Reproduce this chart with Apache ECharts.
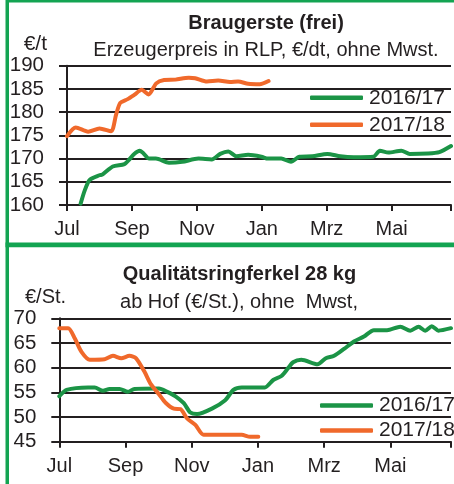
<!DOCTYPE html>
<html>
<head>
<meta charset="utf-8">
<script src="https://cdn.jsdelivr.net/npm/echarts@6/dist/echarts.min.js"></script>
<style>
html,body{margin:0;padding:0;background:#fff;}
#c{width:454px;height:484px;}
</style>
</head>
<body>
<div id="c"></div>
<script>
// Month labels (x axis, every 2 months from July)
var monthLabels = ['Jul', 'Sep', 'Nov', 'Jan', 'Mrz', 'Mai'];
var seriesNames = ['2016/17', '2017/18'];

// Braugerste (frei), €/t — x = months since start of July
var gersteMonths1617 = [0.42, 0.55, 0.7, 1.0, 1.1, 1.41, 1.77, 1.92, 2.07, 2.24, 2.33, 2.53, 2.74, 3.14, 3.55, 4.05, 4.46, 4.72, 4.97, 5.22, 5.58, 5.99, 6.19, 6.6, 6.9, 7.16, 7.56, 8.02, 8.42, 8.83, 9.44, 9.64, 9.9, 10.3, 10.56, 11.12, 11.47, 11.83];
var gersteValues1617 = [160.3, 163.2, 165.4, 166.4, 166.6, 168.3, 168.8, 169.8, 171.0, 171.7, 171.3, 170.0, 170.0, 169.1, 169.3, 170.0, 169.8, 171.0, 171.5, 170.5, 170.8, 170.4, 170.0, 170.0, 169.3, 170.4, 170.5, 171.0, 170.5, 170.3, 170.4, 171.7, 171.3, 171.7, 171.0, 171.1, 171.4, 172.7];
var gersteMonths1718 = [0, 0.27, 0.65, 1.0, 1.36, 1.51, 1.64, 1.87, 2.07, 2.3, 2.51, 2.75, 2.99, 3.34, 3.75, 3.95, 4.31, 4.66, 5.02, 5.27, 5.58, 5.94, 6.21];
var gersteValues1718 = [174.85, 176.7, 175.8, 176.5, 175.9, 179.4, 182.0, 182.8, 183.7, 184.8, 183.8, 186.2, 186.9, 187.0, 187.4, 187.3, 186.6, 186.8, 186.5, 186.6, 186.1, 186.0, 186.7];

// Qualitätsringferkel 28 kg, €/St.
var ferkelMonths1617 = [0, 0.22, 0.87, 1.07, 1.32, 1.52, 1.82, 2.07, 2.27, 3.01, 3.26, 3.51, 3.76, 3.96, 4.16, 4.61, 5.01, 5.26, 5.51, 6.21, 6.46, 6.71, 6.91, 7.06, 7.31, 7.8, 8.05, 8.3, 8.6, 8.9, 9.2, 9.5, 9.9, 10.3, 10.6, 10.85, 11.05, 11.25, 11.45, 11.83];
var ferkelValues1617 = [54.2, 55.5, 56.0, 56.0, 55.3, 55.7, 55.7, 55.1, 55.7, 55.8, 55.1, 54.2, 52.8, 50.9, 50.6, 51.7, 53.4, 55.5, 56.0, 56.0, 57.5, 58.3, 59.9, 61.1, 61.6, 60.7, 61.9, 62.4, 63.8, 65.3, 66.3, 67.6, 67.6, 68.3, 67.5, 68.3, 67.5, 68.4, 67.5, 68.0];
var ferkelMonths1718 = [0, 0.27, 0.47, 0.67, 0.92, 1.37, 1.62, 1.87, 2.12, 2.32, 2.57, 2.77, 3.01, 3.21, 3.46, 3.66, 3.86, 4.11, 4.36, 5.51, 5.76, 6.01];
var ferkelValues1718 = [68.0, 68.0, 65.9, 63.2, 61.6, 61.7, 62.4, 61.9, 62.4, 61.9, 59.2, 56.6, 54.6, 52.9, 51.7, 51.6, 49.7, 48.4, 46.4, 46.4, 46.0, 46.0];

function zip(xs, ys) { return xs.map(function (x, i) { return [x, ys[i]]; }); }

var FONT = '"Liberation Sans", Arial, sans-serif';
var GREEN = '#1b9446';
var ORANGE = '#f0692b';
var FRAME = '#13a452';
var INK = '#231f20';

function xAxisCfg(gridIndex, margin) {
  return {
    type: 'value', gridIndex: gridIndex, min: 0, max: 11.83, interval: 2,
    axisLine: { show: true, lineStyle: { color: INK, width: 2 } },
    axisTick: { show: true, length: 6, lineStyle: { color: INK, width: 2 } },
    splitLine: { show: false },
    axisLabel: {
      margin: margin, color: INK, fontFamily: FONT, fontSize: 20,
      formatter: function (v) { return (v % 2 === 0 && monthLabels[v / 2]) ? monthLabels[v / 2] : ''; }
    }
  };
}
function yAxisCfg(gridIndex, min, max) {
  return {
    type: 'value', gridIndex: gridIndex, min: min, max: max, interval: 5,
    axisLine: { show: true, lineStyle: { color: INK, width: 2 } },
    axisTick: { show: true, length: 8, lineStyle: { color: INK, width: 2 } },
    splitLine: { show: true, lineStyle: { color: INK, width: 1.8 } },
    axisLabel: { margin: 23, color: INK, fontFamily: FONT, fontSize: 20.5 }
  };
}
function lineSeries(name, color, xi, data) {
  return {
    name: name, type: 'line', xAxisIndex: xi, yAxisIndex: xi, data: data,
    symbol: 'none', smooth: 0.25, animation: false,
    lineStyle: { color: color, width: 4, cap: 'round', join: 'round' },
    itemStyle: { color: color }
  };
}
function legendCfg(left, top, gap) {
  return {
    left: left, top: top, orient: 'vertical', padding: 0,
    icon: 'roundRect', itemWidth: 53, itemHeight: 4.5, itemGap: gap,
    data: seriesNames, selectedMode: false,
    textStyle: { fontFamily: FONT, fontSize: 21, color: INK, lineHeight: 20, padding: [0, 0, 0, 1] }
  };
}
function txt(x, y, text, size, weight, align) {
  return { type: 'text', x: x, y: y, z: 10,
    style: { text: text, fontFamily: FONT, fontSize: size, fontWeight: weight, fill: INK,
      textAlign: align, textVerticalAlign: 'middle' } };
}

var chart = echarts.init(document.getElementById('c'), null, { renderer: 'canvas' });
chart.setOption({
  backgroundColor: '#fff',
  animation: false,
  grid: [
    { left: 67, top: 65.7, width: 387, height: 139.3 },
    { left: 59.3, top: 318.3, width: 394.7, height: 123.4 }
  ],
  xAxis: [xAxisCfg(0, 14), xAxisCfg(1, 15)],
  yAxis: [yAxisCfg(0, 160, 190), yAxisCfg(1, 45, 70)],
  legend: [legendCfg(310, 87.3, 6), legendCfg(320, 395, 4)],
  series: [
    lineSeries(seriesNames[0], GREEN, 0, zip(gersteMonths1617, gersteValues1617)),
    lineSeries(seriesNames[1], ORANGE, 0, zip(gersteMonths1718, gersteValues1718)),
    lineSeries(seriesNames[0], GREEN, 1, zip(ferkelMonths1617, ferkelValues1617)),
    lineSeries(seriesNames[1], ORANGE, 1, zip(ferkelMonths1718, ferkelValues1718))
  ],
  graphic: [
    { type: 'rect', shape: { x: 6, y: 0, width: 448, height: 2.5 }, style: { fill: FRAME }, z: 20 },
    { type: 'rect', shape: { x: 5.5, y: 0, width: 3.5, height: 484 }, style: { fill: FRAME }, z: 20 },
    { type: 'rect', shape: { x: 5.5, y: 242.5, width: 448.5, height: 4.8 }, style: { fill: FRAME }, z: 20 },
    txt(266, 23, 'Braugerste (frei)', 20, 'bold', 'center'),
    txt(266, 50, 'Erzeugerpreis in RLP, €/dt, ohne Mwst.', 20, 'normal', 'center'),
    txt(47, 44, '€/t', 21, 'normal', 'right'),
    txt(239.5, 274, 'Qualitätsringferkel 28 kg', 20, 'bold', 'center'),
    txt(239, 302, 'ab Hof (€/St.), ohne  Mwst,', 20, 'normal', 'center'),
    txt(25, 297, '€/St.', 20, 'normal', 'left')
  ]
});
</script>
</body>
</html>
